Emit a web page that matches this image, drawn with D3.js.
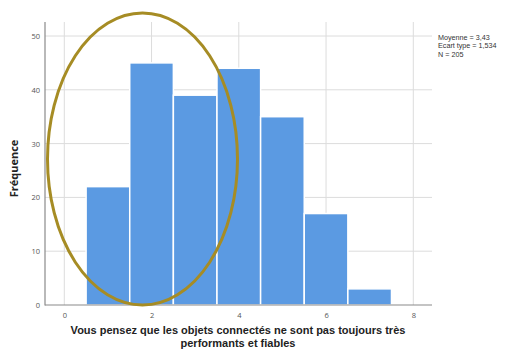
<!DOCTYPE html>
<html><head><meta charset="utf-8">
<script src="https://cdn.jsdelivr.net/npm/d3@7"></script>
<style>body{margin:0;background:#fff}svg{display:block}</style>
</head><body>
<script>
const categories = [1, 2, 3, 4, 5, 6, 7];
const frequencies = [22, 45, 39, 44, 35, 17, 3];
const xTicks = [0, 2, 4, 6, 8];
const yTicks = [0, 10, 20, 30, 40, 50];
const statsLines = ["Moyenne = 3,43", "Ecart type = 1,534", "N = 205"];
const xTitle = ["Vous pensez que les objets connectés ne sont pas toujours très", "performants et fiables"];
const yTitle = "Fréquence";

const W = 505, H = 350;
const svg = d3.select("body").append("svg").attr("width", W).attr("height", H);
const pLeft = 45, pRight = 432, pTop = 22, pBottom = 305;
const x = d3.scaleLinear().domain([0, 8]).range([64.3, 413.3]);
const y = d3.scaleLinear().domain([0, 50]).range([pBottom, 36]);

// gridlines
svg.append("g").selectAll("line").data(yTicks.filter(d => d > 0)).join("line")
  .attr("x1", pLeft).attr("x2", pRight).attr("y1", d => y(d)).attr("y2", d => y(d))
  .attr("stroke", "#dcdcdc").attr("stroke-width", 1);
svg.append("g").selectAll("line").data(xTicks).join("line")
  .attr("x1", d => x(d)).attr("x2", d => x(d)).attr("y1", pTop).attr("y2", pBottom)
  .attr("stroke", "#dcdcdc").attr("stroke-width", 1);

// bars
svg.append("g").selectAll("rect").data(categories).join("rect")
  .attr("x", (d) => x(d - 0.5))
  .attr("width", (d) => x(d + 0.5) - x(d - 0.5))
  .attr("y", (d, i) => y(frequencies[i]))
  .attr("height", (d, i) => y(0) - y(frequencies[i]))
  .attr("fill", "#5b9ae2").attr("stroke", "#ffffff").attr("stroke-width", 1.5);

// axes
const yAxis = d3.axisLeft(y).tickValues(yTicks).tickSize(0).tickPadding(5);
const gy = svg.append("g").attr("transform", `translate(${pLeft},0)`).call(yAxis);
gy.select(".domain").remove();
gy.selectAll("text").attr("font-family", "Open Sans, sans-serif").attr("font-size", 7.5).attr("fill", "#555");
const xAxis = d3.axisBottom(x).tickValues(xTicks).tickSize(0).tickPadding(8);
const gx = svg.append("g").attr("transform", `translate(0,${pBottom})`).call(xAxis);
gx.select(".domain").remove();
gx.selectAll("text").attr("font-family", "Open Sans, sans-serif").attr("font-size", 7.5).attr("fill", "#555");

svg.append("line").attr("x1", pLeft).attr("x2", pLeft).attr("y1", pTop).attr("y2", pBottom + 0.5)
  .attr("stroke", "#8a8a8a").attr("stroke-width", 1.2);
svg.append("line").attr("x1", pLeft).attr("x2", pRight).attr("y1", pBottom).attr("y2", pBottom)
  .attr("stroke", "#8a8a8a").attr("stroke-width", 1.2);

// titles
svg.append("text").attr("transform", `translate(18,${(pTop + pBottom) / 2 + 5}) rotate(-90)`)
  .attr("text-anchor", "middle").attr("font-family", "Open Sans, sans-serif")
  .attr("font-weight", "bold").attr("font-size", 11).attr("fill", "#222").text(yTitle);
xTitle.forEach((line, i) => {
  svg.append("text").attr("text-anchor", "middle").attr("font-family", "Liberation Sans, Arial, sans-serif")
    .attr("font-weight", "bold").attr("font-size", 11).attr("fill", "#222")
    .attr("x", 238).attr("y", 334 + i * 12.8).text(line);
});

// stats
statsLines.forEach((line, i) => {
  svg.append("text").attr("font-family", "Liberation Sans, Arial, sans-serif").attr("font-size", 7.2).attr("fill", "#333")
    .attr("x", 438).attr("y", 40 + i * 8.4).text(line);
});

// annotation ellipse
svg.append("ellipse").attr("cx", 142.5).attr("cy", 159).attr("rx", 95).attr("ry", 146)
  .attr("fill", "none").attr("stroke", "#a68c24").attr("stroke-width", 3);
</script>
</body></html>
